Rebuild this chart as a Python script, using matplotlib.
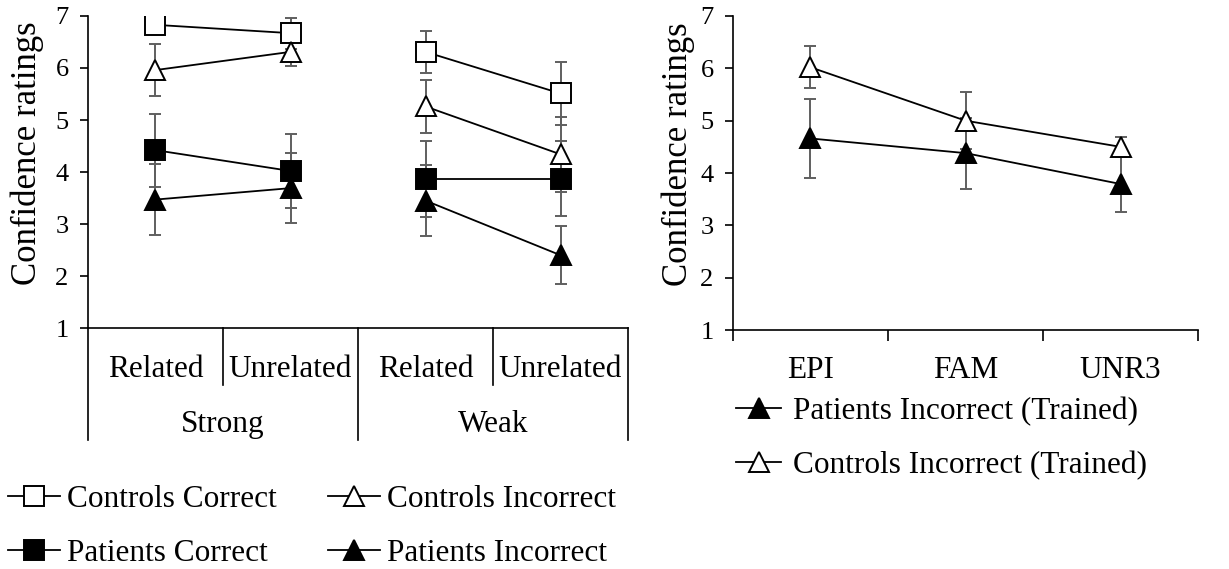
import numpy as np
import matplotlib
matplotlib.use("Agg")
import matplotlib.pyplot as plt

plt.rcParams['font.family'] = ['Liberation Serif', 'DejaVu Serif']

# left panel: strength x relatedness
conditions = ['Related', 'Unrelated', 'Related', 'Unrelated']
strengths = ['Strong', 'Weak']
controls_correct = [6.83, 6.67, 6.31, 5.51]
controls_correct_err = [0.15, 0.30, 0.41, 0.61]
controls_incorrect = [5.96, 6.31, 5.26, 4.34]
controls_incorrect_err = [0.50, 0.28, 0.51, 0.72]
patients_correct = [4.42, 4.02, 3.87, 3.87]
patients_correct_err = [0.70, 0.71, 0.73, 0.72]
patients_incorrect = [3.47, 3.69, 3.45, 2.40]
patients_incorrect_err = [0.68, 0.67, 0.68, 0.56]

# right panel: trained items
trained = ['EPI', 'FAM', 'UNR3']
patients_inc_trained = [4.66, 4.38, 3.79]
patients_inc_trained_err = [0.76, 0.68, 0.53]
controls_inc_trained = [6.02, 5.00, 4.50]
controls_inc_trained_err = [0.40, 0.54, 0.19]

FS = 22.5
TICK_FS = 19
LABEL_FS = 25
ERR_COLOR = '#5f5f5f'
MS = 14


def draw_series(ax, x, y, err, marker, face, label, groups=None):
    ax.errorbar(x, y, yerr=err, fmt='none', ecolor=ERR_COLOR, elinewidth=1.4,
                capsize=4.5, capthick=1.4, zorder=2)
    style = dict(color='black', lw=1.3, marker=marker, ms=MS,
                 markerfacecolor=face, markeredgecolor='black', mew=1.4, zorder=3)
    if groups is None:
        groups = [slice(None)]
    x = np.asarray(x)
    y = np.asarray(y)
    # lines only join points inside the same group
    for k, g in enumerate(groups):
        ax.plot(x[g], y[g], label=label if k == 0 else None, **style)


def style_axis(ax, label_x):
    ax.set_ylim(1, 7)
    ax.set_yticks(range(1, 8))
    ax.spines['top'].set_visible(False)
    ax.spines['right'].set_visible(False)
    ax.spines['left'].set_linewidth(1.2)
    ax.spines['bottom'].set_linewidth(1.2)
    ax.tick_params(axis='y', direction='out', length=6, width=1.2,
                   labelsize=TICK_FS, pad=8)
    ax.set_ylabel('Confidence ratings', fontsize=LABEL_FS)
    ax.yaxis.label.set_va('center')
    ax.yaxis.set_label_coords(label_x, 0.56)


fig = plt.figure(figsize=(12.29, 5.69), dpi=100)

# ---- left panel ----
ax1 = fig.add_axes([0.0716, 0.4235, 0.4394, 0.5484])
x1 = np.arange(len(conditions)) + 0.5
pairs = [slice(0, 2), slice(2, 4)]
draw_series(ax1, x1, controls_correct, controls_correct_err, 's', 'white', 'Controls Correct', pairs)
draw_series(ax1, x1, controls_incorrect, controls_incorrect_err, '^', 'white', 'Controls Incorrect', pairs)
draw_series(ax1, x1, patients_correct, patients_correct_err, 's', 'black', 'Patients Correct', pairs)
draw_series(ax1, x1, patients_incorrect, patients_incorrect_err, '^', 'black', 'Patients Incorrect', pairs)
ax1.set_xlim(0, len(conditions))
ax1.set_xticks([])
style_axis(ax1, -0.112)

# two-level category axis
sep = ax1.get_xaxis_transform()
for xb in [1, 3]:
    ax1.plot([xb, xb], [0, -0.183], transform=sep, color='black', lw=1.2, clip_on=False)
for xb in [0, 2, 4]:
    ax1.plot([xb, xb], [0, -0.359], transform=sep, color='black', lw=1.2, clip_on=False)
for xc, lab in zip(x1, conditions):
    ax1.text(xc, -0.133, lab, transform=sep, ha='center', va='center', fontsize=FS)
for i, lab in enumerate(strengths):
    ax1.text(2 * i + 1, -0.31, lab, transform=sep, ha='center', va='center', fontsize=FS)

h1, l1 = ax1.get_legend_handles_labels()
order = [0, 2, 1, 3]
fig.legend([h1[i] for i in order], [l1[i] for i in order], ncol=2,
           loc='upper left', bbox_to_anchor=(0.0065, 0.147), frameon=False,
           fontsize=FS, handlelength=1.66, handletextpad=0.22, columnspacing=1.66,
           labelspacing=0.78, borderaxespad=0, borderpad=0)

# ---- right panel ----
ax2 = fig.add_axes([0.5964, 0.4200, 0.3784, 0.5519])
x2 = np.arange(len(trained)) + 0.5
draw_series(ax2, x2, patients_inc_trained, patients_inc_trained_err, '^', 'black',
            'Patients Incorrect (Trained)')
draw_series(ax2, x2, controls_inc_trained, controls_inc_trained_err, '^', 'white',
            'Controls Incorrect (Trained)')
ax2.set_xlim(0, len(trained))
ax2.set_xticks(range(len(trained) + 1))
ax2.set_xticklabels([])
ax2.set_xticks(x2, minor=True)
ax2.set_xticklabels(trained, minor=True)
ax2.tick_params(axis='x', which='major', direction='out', length=8, width=1.2)
ax2.tick_params(axis='x', which='minor', length=0, labelsize=FS, pad=19)
style_axis(ax2, -0.118)

ax2.legend(loc='upper left', bbox_to_anchor=(0.5985, 0.303), bbox_transform=fig.transFigure,
           frameon=False, fontsize=FS, handlelength=1.47, handletextpad=0.38,
           labelspacing=0.8, borderaxespad=0, borderpad=0)

fig.savefig('out.png', dpi=100)
